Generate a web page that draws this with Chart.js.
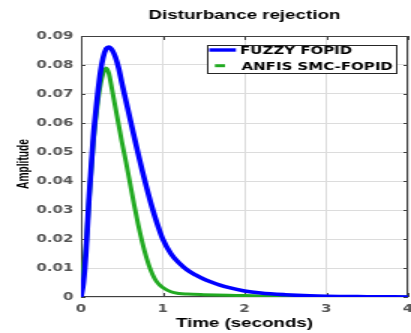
<!DOCTYPE html>
<html><head><meta charset="utf-8">
<script src="https://cdn.jsdelivr.net/npm/chart.js@4.4.1/dist/chart.umd.min.js"></script>
<style>
html,body{margin:0;padding:0;background:#fff;overflow:hidden;}
</style></head><body>
<canvas id="c" width="274" height="333" style="display:block;width:411px;height:333px;"></canvas>
<script>
// Reference figure is stretched horizontally ~1.5x; canvas is drawn at 274px wide and CSS-stretched to 411px.
const SX = 1.5;

const chartTitle = 'Disturbance rejection';
const xTitle = 'Time (seconds)';
const yTitle = 'Amplitude';
const seriesNames = ['FUZZY FOPID', 'ANFIS SMC-FOPID'];
const xTickLabels = ['0', '1', '2', '3', '4'];
const yTickLabels = ['0', '0.01', '0.02', '0.03', '0.04', '0.05', '0.06', '0.07', '0.08', '0.09'];

const fuzzyTime = [0, 0.03, 0.06, 0.1, 0.15, 0.2, 0.24, 0.27, 0.31, 0.34, 0.38, 0.42, 0.46, 0.5, 0.55, 0.6, 0.65, 0.7, 0.75, 0.8, 0.85, 0.9, 0.95, 1.0, 1.1, 1.2, 1.3, 1.4, 1.5, 1.6, 1.7, 1.8, 2.0, 2.2, 2.5, 2.8, 3.0, 3.5, 4.0];
const fuzzyAmp = [0, 0.005, 0.015, 0.035, 0.055, 0.069, 0.078, 0.0825, 0.0857, 0.0862, 0.0852, 0.0828, 0.079, 0.0738, 0.0676, 0.0615, 0.0553, 0.0493, 0.0435, 0.0380, 0.0328, 0.0281, 0.0238, 0.0200, 0.0149, 0.0117, 0.0093, 0.0076, 0.0062, 0.0051, 0.0041, 0.0033, 0.0021, 0.0014, 0.0008, 0.0004, 0.00025, 0.0001, 0];

const anfisTime = [0, 0.03, 0.06, 0.1, 0.15, 0.2, 0.24, 0.27, 0.307, 0.34, 0.38, 0.42, 0.46, 0.5, 0.55, 0.6, 0.65, 0.7, 0.75, 0.8, 0.85, 0.9, 0.95, 1.0, 1.1, 1.2, 1.3, 1.5, 1.8, 2.0, 2.3, 2.6, 3.0, 4.0];
const anfisAmp = [0, 0.010, 0.017, 0.034, 0.053, 0.066, 0.0735, 0.077, 0.079, 0.0772, 0.0715, 0.0655, 0.0595, 0.0535, 0.0466, 0.0392, 0.0318, 0.0249, 0.0188, 0.0136, 0.0094, 0.0064, 0.0045, 0.0033, 0.0018, 0.0012, 0.001, 0.0008, 0.0006, 0.0005, 0.0003, 0.0001, 0, 0];

const BLUE = '#0000ff';
const GREEN = '#22aa22';
const TICK_FONT = {family: '"DejaVu Sans", sans-serif', size: 10, weight: 'bold'};

const framePlugin = {
  id: 'frame',
  beforeDatasetsDraw(chart) {
    const {ctx, chartArea: a, scales: {x, y}} = chart;
    ctx.save();
    ctx.strokeStyle = '#404040';
    ctx.lineWidth = 1;
    ctx.beginPath();
    y.ticks.forEach(t => {
      const p = Math.round(y.getPixelForValue(t.value)) + 0.5;
      ctx.moveTo(a.left, p); ctx.lineTo(a.left + 3, p);
      ctx.moveTo(a.right, p); ctx.lineTo(a.right - 3, p);
    });
    x.ticks.forEach(t => {
      const p = Math.round(x.getPixelForValue(t.value)) + 0.5;
      ctx.moveTo(p, a.bottom); ctx.lineTo(p, a.bottom - 4);
      ctx.moveTo(p, a.top); ctx.lineTo(p, a.top + 4);
    });
    ctx.stroke();
    ctx.strokeRect(a.left + 0.5, a.top + 0.5, a.right - a.left - 1, a.bottom - a.top - 1);
    ctx.restore();
  },
  afterDatasetsDraw(chart) {
    const {ctx} = chart;
    ctx.save();
    ctx.fillStyle = '#fff';
    ctx.fillRect(138.5, 45.5, 126, 28);
    ctx.strokeStyle = '#262626';
    ctx.lineWidth = 1;
    ctx.strokeRect(138.5, 45.5, 126, 28);
    ctx.lineCap = 'butt';
    ctx.strokeStyle = BLUE; ctx.lineWidth = 3.4;
    ctx.beginPath(); ctx.moveTo(139.5, 50); ctx.lineTo(157.3, 50); ctx.stroke();
    ctx.strokeStyle = GREEN; ctx.lineWidth = 3;
    ctx.beginPath(); ctx.moveTo(143.3, 65.7); ctx.lineTo(150, 65.7); ctx.stroke();
    ctx.fillStyle = '#000';
    ctx.font = 'bold 10px "DejaVu Sans"';
    ctx.textBaseline = 'alphabetic';
    ctx.textAlign = 'left';
    ctx.fillText(seriesNames[0], 160, 54.2);
    ctx.fillText(seriesNames[1], 161, 69.5);
    ctx.restore();
  },
  afterDraw(chart) {
    const {ctx} = chart;
    ctx.save();
    ctx.font = 'bold 12px "Liberation Sans"';
    const w = ctx.measureText(yTitle).width;
    ctx.translate(16, 164);
    ctx.rotate(-Math.PI / 2);
    ctx.scale(50 / w, 1.35 / SX);
    ctx.fillStyle = '#000';
    ctx.textAlign = 'center';
    ctx.textBaseline = 'middle';
    ctx.fillText(yTitle, 0, 0);
    ctx.restore();
  }
};

new Chart(document.getElementById('c'), {
  type: 'line',
  data: {
    datasets: [
      {
        label: seriesNames[0],
        data: fuzzyTime.map((t, i) => ({x: t, y: fuzzyAmp[i]})),
        borderColor: BLUE, backgroundColor: BLUE,
        borderWidth: 3.6, pointRadius: 0,
        cubicInterpolationMode: 'monotone', fill: false, order: 0
      },
      {
        label: seriesNames[1],
        data: anfisTime.map((t, i) => ({x: t, y: anfisAmp[i]})),
        borderColor: GREEN, backgroundColor: GREEN,
        borderWidth: 3, pointRadius: 0,
        cubicInterpolationMode: 'monotone', fill: false, order: 1
      }
    ]
  },
  options: {
    responsive: false,
    devicePixelRatio: 1,
    animation: false,
    events: [],
    layout: {padding: {left: 0, right: 2, top: 0, bottom: 0}},
    plugins: {
      legend: {display: false},
      tooltip: {enabled: false},
      title: {
        display: true, text: chartTitle, fullSize: false, color: '#000',
        font: {family: '"Liberation Sans", Arial, sans-serif', size: 12.5, weight: 'bold', lineHeight: 1.2},
        padding: {top: 8, bottom: 13}
      }
    },
    scales: {
      x: {
        type: 'linear', min: 0, max: 4,
        ticks: {stepSize: 1, font: TICK_FONT, color: '#555', padding: 6, maxRotation: 0,
          callback: (v, i) => xTickLabels[i]},
        grid: {color: '#dcdcdc', lineWidth: 1, drawTicks: false},
        border: {display: false},
        title: {display: true, text: xTitle, color: '#000',
          font: {family: '"Liberation Sans", Arial, sans-serif', size: 12.5, weight: 'bold', lineHeight: 1.2},
          padding: {top: 0, bottom: 2}},
        afterFit(s) { s.height = 36; s.paddingLeft = 0; s.paddingRight = 0; }
      },
      y: {
        type: 'linear', min: 0, max: 0.09,
        ticks: {stepSize: 0.01, font: TICK_FONT, color: '#555', padding: 5,
          callback: (v, i) => yTickLabels[i]},
        grid: {color: '#dcdcdc', lineWidth: 1, drawTicks: false},
        border: {display: false},
        afterFit(s) { s.width = 54; s.paddingTop = 0; s.paddingBottom = 0; }
      }
    }
  },
  plugins: [framePlugin]
});
</script>
</body></html>
